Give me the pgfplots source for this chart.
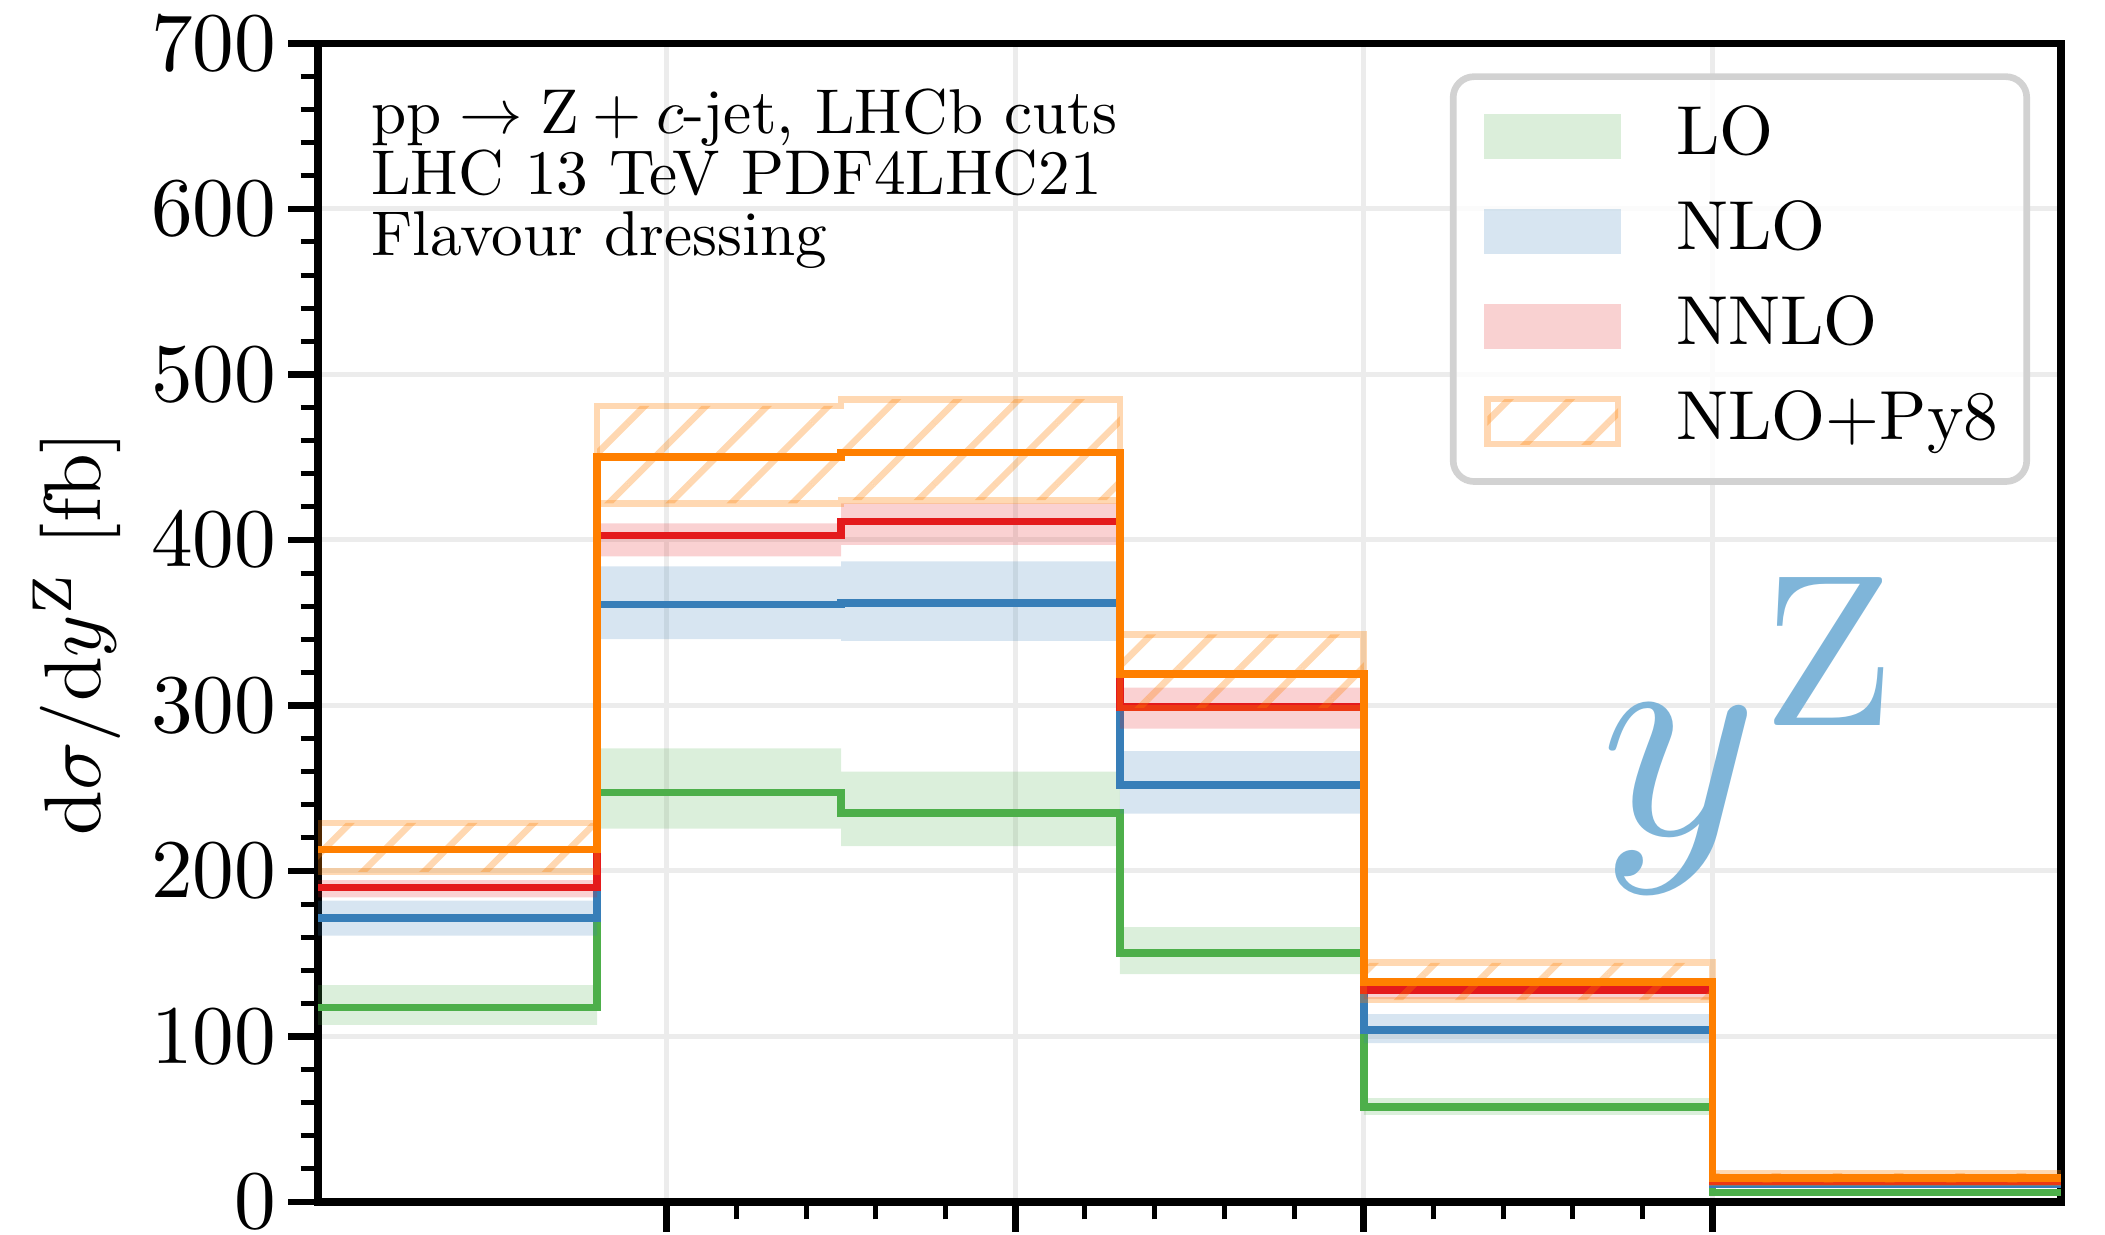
\documentclass[border=0pt]{standalone}
\usepackage{graphicx}
\usepackage{pgfplots}
\pgfplotsset{compat=1.18}
\usetikzlibrary{patterns.meta}
\definecolor{cLO}{RGB}{77,175,74}
\definecolor{cNLO}{RGB}{55,126,184}
\definecolor{cNNLO}{RGB}{228,26,28}
\definecolor{cPY}{RGB}{255,127,0}
\definecolor{gridgray}{RGB}{236,236,236}
\definecolor{legframe}{RGB}{210,210,210}
\definecolor{yzblue}{RGB}{127,181,217}
\pgfplotsset{
  bandlegend/.style={legend image code/.code={\path (0pt,0pt); \fill[##1, sharp corners] (1.9pt,-2.7pt) rectangle (18.4pt,2.7pt);}},
  hatchlegend/.style={legend image code/.code={\path (0pt,0pt); \draw[##1, sharp corners] (2.3pt,-2.7pt) rectangle (18.0pt,2.7pt);}},
}
\newcommand{\legtxt}[1]{\scalebox{0.833}{\fontsize{10}{12}\selectfont #1}}
\begin{document}
\begin{tikzpicture}
\begin{axis}[
  scale only axis, width=209.2pt, height=139.1pt,
  xmin=2.0, xmax=4.5, ymin=0, ymax=700,
  xtick={2.5,3,3.5,4}, xticklabels={},
  minor x tick num=4,
  ytick={0,100,...,700}, minor y tick num=4,
  xtick pos=lower, ytick pos=left,
  tick align=outside,
  major tick length=3.6pt, minor tick length=2.1pt,
  every tick/.style={black, line width=0.8pt},
  every minor tick/.style={black, line width=0.6pt},
  axis line style={line width=0.9pt},
  yticklabel style={xshift=2.1pt},
  grid=major,
  major grid style={color=gridgray, line width=0.6pt},
  every axis y label/.style={at={(axis description cs:0,0.4907)}, xshift=-29.0pt, rotate=90, anchor=center},
  ylabel={\scalebox{0.965}{$\mathrm{d}\sigma/\mathrm{d}y^{\mathrm{Z}}$ [fb]}},
  legend cell align=left,
  legend style={at={(rel axis cs:1,1)}, xshift=-3.7pt, yshift=-3.6pt, anchor=north east,
    draw=legframe, line width=0.8pt, rounded corners=2.5pt, fill=white, fill opacity=0.8, text opacity=1,
    font=\fontsize{8.33}{10}\selectfont, inner xsep=1.4pt, inner ysep=1.5pt, row sep=0pt,
    /tikz/every odd column/.append style={column sep=4.6pt},
    /tikz/every even column/.append style={inner xsep=0.8pt, inner ysep=1.5pt, text height=5.9pt, text depth=1.7pt}},
  bandlegend,
]
% LO band
\addplot[fill=cLO, fill opacity=0.2, draw=none] coordinates {
 (2.0,131) (2.4,131) (2.4,274) (2.75,274) (2.75,260) (3.15,260) (3.15,166) (3.5,166) (3.5,62.8) (4.0,62.8) (4.0,7) (4.5,7)
 (4.5,4.8) (4.0,4.8) (4.0,52.7) (3.5,52.7) (3.5,137.6) (3.15,137.6) (3.15,215) (2.75,215) (2.75,225.5) (2.4,225.5) (2.4,107) (2.0,107)
} -- cycle;
\addlegendentry{\legtxt{LO}}
\addplot[const plot, cLO, line width=0.9pt, forget plot] coordinates {
 (2.0,117.5) (2.4,247.5) (2.75,235) (3.15,150.5) (3.5,57.3) (4.0,5.8) (4.5,5.8)
};
% NLO band
\addplot[fill=cNLO, fill opacity=0.2, draw=none] coordinates {
 (2.0,182) (2.4,182) (2.4,384) (2.75,384) (2.75,387) (3.15,387) (3.15,272.4) (3.5,272.4) (3.5,113.5) (4.0,113.5) (4.0,11.5) (4.5,11.5)
 (4.5,9.5) (4.0,9.5) (4.0,96) (3.5,96) (3.5,234.6) (3.15,234.6) (3.15,339) (2.75,339) (2.75,340) (2.4,340) (2.4,161) (2.0,161)
} -- cycle;
\addlegendentry{\legtxt{NLO}}
\addplot[const plot, cNLO, line width=0.9pt, forget plot] coordinates {
 (2.0,171.5) (2.4,361) (2.75,362) (3.15,252) (3.5,104) (4.0,10.5) (4.5,10.5)
};
% NNLO band
\addplot[fill=cNNLO, fill opacity=0.2, draw=none] coordinates {
 (2.0,194.5) (2.4,194.5) (2.4,410) (2.75,410) (2.75,422) (3.15,422) (3.15,310.7) (3.5,310.7) (3.5,131.5) (4.0,131.5) (4.0,13.5) (4.5,13.5)
 (4.5,11.5) (4.0,11.5) (4.0,122.5) (3.5,122.5) (3.5,286) (3.15,286) (3.15,397) (2.75,397) (2.75,390) (2.4,390) (2.4,184) (2.0,184)
} -- cycle;
\addlegendentry{\legtxt{NNLO}}
\addplot[const plot, cNNLO, line width=0.9pt, forget plot] coordinates {
 (2.0,190) (2.4,402.6) (2.75,411) (3.15,299) (3.5,128) (4.0,12.5) (4.5,12.5)
};
% NLO+Py8 band
\addplot[draw=cPY, draw opacity=0.3, line width=0.8pt,
  pattern={Lines[angle=45,distance=5.2pt,line width=0.8pt]}, pattern color=cPY, fill opacity=0.3,
  hatchlegend] coordinates {
 (2.0,229) (2.4,229) (2.4,481) (2.75,481) (2.75,485) (3.15,485) (3.15,343) (3.5,343) (3.5,144.5) (4.0,144.5) (4.0,17.5) (4.5,17.5)
 (4.5,11.5) (4.0,11.5) (4.0,122) (3.5,122) (3.5,298.5) (3.15,298.5) (3.15,424) (2.75,424) (2.75,422) (2.4,422) (2.4,199.5) (2.0,199.5)
} -- cycle;
\addlegendentry{\legtxt{NLO+Py8}}
\addplot[const plot, cPY, line width=0.9pt, forget plot] coordinates {
 (2.0,213) (2.4,450) (2.75,452.7) (3.15,319) (3.5,133) (4.0,14.5) (4.5,14.5)
};
\node[anchor=north west, align=left, inner sep=0pt, font=\fontsize{10}{9.64}\selectfont, scale=0.76, transform shape]
  at (rel axis cs:0.0297,0.962)
  {$\mathrm{pp}\rightarrow\mathrm{Z}+c$-jet, LHCb cuts\\LHC 13 TeV PDF4LHC21\\Flavour dressing};
\node[anchor=base west, inner sep=0pt, text=yzblue]
  at (axis cs:3.837,222) {\scalebox{3.6}{$y$}};
\node[anchor=base west, inner sep=0pt, text=yzblue]
  at (axis cs:4.07,288) {\scalebox{2.6}{$\mathrm{Z}$}};
\coordinate (sw) at (rel axis cs:0,0);
\coordinate (ne) at (rel axis cs:1,1);
\end{axis}
\pgfresetboundingbox
\path[use as bounding box] ([shift={(-38.2pt,-3.9pt)}]sw) rectangle ([shift={(5.3pt,5.2pt)}]ne);
\end{tikzpicture}
\end{document}
